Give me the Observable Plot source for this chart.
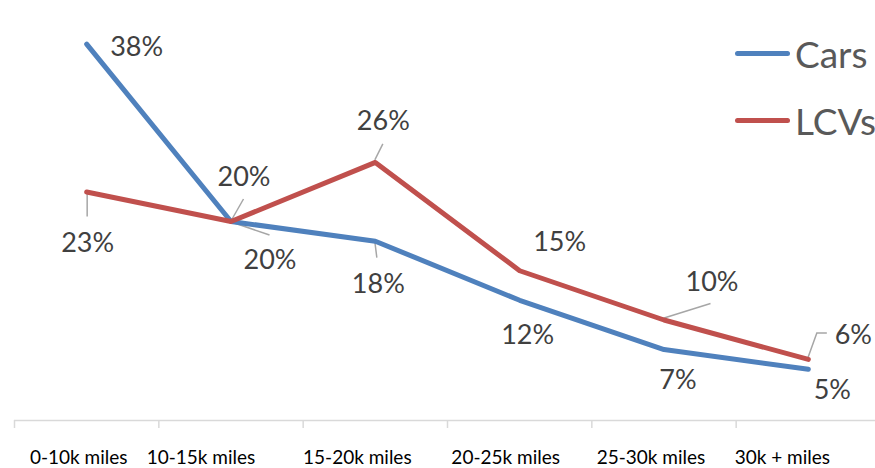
<!DOCTYPE html>
<html>
<head>
<meta charset="utf-8">
<script src="https://cdn.jsdelivr.net/npm/d3@7"></script>
<script src="https://cdn.jsdelivr.net/npm/@observablehq/plot@0.6"></script>
<style>
  html, body { margin: 0; padding: 0; background: #fff; }
  #wrap { position: relative; width: 875px; height: 468px; overflow: hidden; }
  .legend { position: absolute; left: 735px; font-family: Lato, "Liberation Sans", sans-serif; font-size: 37px; color: #595959; display: flex; align-items: center; }
  .legend .sw { width: 55px; height: 5px; border-radius: 3px; margin-right: 5px; }
</style>
</head>
<body>
<div id="wrap"></div>
<script>
// ---- data ----
const categories = ["0-10k miles", "10-15k miles", "15-20k miles", "20-25k miles", "25-30k miles", "30k + miles"];
const cars = [38, 20, 18, 12, 7, 5];
const lcvs = [23, 20, 26, 15, 10, 6];
const seriesNames = ["Cars", "LCVs"];

// ---- layout (pixel offsets of labels and leader lines) ----
const tickLabelDx = [-8, -30, -18, -14, -13, -26];
const carsLabelOffset = [[50, 3], [39, 39], [3, 43], [8, 35], [14, 31], [24, 21]];
const lcvsLabelOffset = [[1, 51], [13, -44], [8, -41], [40, -28], [48, -38], [45, -24]];
const leaders = [
  {s: "lcvs", i: 0, pts: [[1, 2], [1, 25]]},
  {s: "lcvs", i: 1, pts: [[1, -1], [13, -22]]},
  {s: "cars", i: 1, pts: [[1, 1], [39, 14]]},
  {s: "cars", i: 2, pts: [[0, 1], [2, 17]]},
  {s: "lcvs", i: 2, pts: [[0, -2], [8, -18]]},
  {s: "lcvs", i: 4, pts: [[-1, -1], [47, -16]]},
  {s: "lcvs", i: 5, pts: [[0, -1], [9, -26], [19, -26]]}
];

const BLUE = "#4f81bd", RED = "#c0504d";
const FONT = "Lato, 'Liberation Sans', sans-serif";
const idx = categories.map((_, i) => i);
const vals = {cars, lcvs};

const labelMarks = [];
idx.forEach(i => {
  labelMarks.push(Plot.text([i], {x: d => d, y: d => cars[d], text: d => cars[d] + "%",
    dx: carsLabelOffset[i][0], dy: carsLabelOffset[i][1], fontSize: 27, fill: "#404040", fontFamily: FONT}));
  labelMarks.push(Plot.text([i], {x: d => d, y: d => lcvs[d], text: d => lcvs[d] + "%",
    dx: lcvsLabelOffset[i][0], dy: lcvsLabelOffset[i][1], fontSize: 27, fill: "#404040", fontFamily: FONT}));
  labelMarks.push(Plot.text([i], {x: d => d, y: () => 0, text: d => categories[d],
    dx: tickLabelDx[i], dy: 39, fontSize: 19, fill: "#000", fontFamily: FONT}));
});

const leaderMark = (index, scales) => {
  const g = d3.create("svg:g").attr("stroke", "#a6a6a6").attr("stroke-width", 1.5).attr("fill", "none");
  leaders.forEach(L => {
    const px = scales.x(L.i), py = scales.y(vals[L.s][L.i]);
    g.append("path").attr("d", d3.line()(L.pts.map(([a, b]) => [px + a, py + b])));
  });
  return g.node();
};

const chart = Plot.plot({
  width: 875,
  height: 468,
  marginTop: 24,
  marginBottom: 50,
  marginLeft: 14,
  marginRight: 0,
  style: {fontFamily: FONT, background: "transparent", overflow: "visible"},
  x: {type: "linear", domain: [-0.5, 5.5], range: [14, 880], axis: null},
  y: {domain: [0, 40], axis: null},
  marks: [
    Plot.ruleY([0], {stroke: "#d9d9d9", strokeWidth: 1.5, dy: 2}),
    Plot.axisX({ticks: idx.map(i => i - 0.5), tickFormat: () => "", tickSize: 8, stroke: "#d9d9d9", strokeWidth: 1.5, dy: 2, label: null}),
    leaderMark,
    Plot.line(idx, {x: i => i, y: i => cars[i], stroke: BLUE, strokeWidth: 5, strokeLinecap: "round", strokeLinejoin: "round"}),
    Plot.line(idx, {x: i => i, y: i => lcvs[i], stroke: RED, strokeWidth: 5, strokeLinecap: "round", strokeLinejoin: "round"}),
    ...labelMarks
  ]
});

const wrap = document.getElementById("wrap");
wrap.appendChild(chart);

[[seriesNames[0], BLUE, 31], [seriesNames[1], RED, 98]].forEach(([name, color, top]) => {
  const d = document.createElement("div");
  d.className = "legend";
  d.style.top = top + "px";
  d.innerHTML = `<span class="sw" style="background:${color}"></span><span>${name}</span>`;
  wrap.appendChild(d);
});
</script>
</body>
</html>
